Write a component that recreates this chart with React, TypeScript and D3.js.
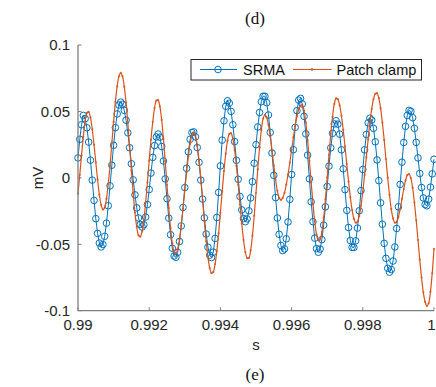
import * as d3 from "d3";

// sampling of both traces (s)
const tStart = 0.99;
const tStep = 0.00005;

// SRMA estimate (mV)
const srma = [
  0.015, 0.029, 0.04, 0.047, 0.0446, 0.0377, 0.0269, 0.0133, -0.0017, -0.017,
  -0.0307, -0.0418, -0.0491, -0.052, -0.0502, -0.044, -0.0341, -0.021, -0.006, 0.0095,
  0.0245, 0.0378, 0.0481, 0.0548, 0.057, 0.0554, 0.0508, 0.0434, 0.0339, 0.0227,
  0.0106, -0.0015, -0.0128, -0.0226, -0.0302, -0.0351, -0.037, -0.0353, -0.0295, -0.0201,
  -0.0088, 0.0036, 0.0154, 0.0243, 0.0308, 0.033, 0.0306, 0.0236, 0.0127, -0.0008,
  -0.0157, -0.0303, -0.0428, -0.053, -0.0588, -0.0598, -0.0561, -0.0479, -0.0362, -0.0223,
  -0.0073, 0.0072, 0.0196, 0.029, 0.0341, 0.0346, 0.0308, 0.0228, 0.0117, -0.0017,
  -0.016, -0.0301, -0.0423, -0.0522, -0.0582, -0.06, -0.0559, -0.0456, -0.0298, -0.011,
  0.009, 0.0284, 0.0429, 0.0539, 0.058, 0.0562, 0.05, 0.04, 0.0273, 0.0132,
  -0.0011, -0.014, -0.0241, -0.0307, -0.033, -0.0309, -0.0248, -0.0151, -0.0029, 0.011,
  0.025, 0.0383, 0.0492, 0.0573, 0.0614, 0.0614, 0.0566, 0.0473, 0.0342, 0.0187,
  0.0019, -0.0149, -0.0302, -0.0425, -0.0509, -0.0548, -0.0535, -0.0459, -0.0332, -0.0162,
  0.0025, 0.0212, 0.038, 0.0506, 0.0585, 0.0598, 0.0556, 0.0463, 0.0331, 0.0171,
  -0.0008, -0.018, -0.033, -0.0454, -0.0533, -0.056, -0.0536, -0.0465, -0.0356, -0.0218,
  -0.0065, 0.0088, 0.0226, 0.0335, 0.0406, 0.043, 0.0404, 0.0329, 0.0211, 0.0068,
  -0.0089, -0.0245, -0.0374, -0.0472, -0.0523, -0.0524, -0.0474, -0.0378, -0.0248, -0.0096,
  0.0063, 0.0211, 0.0327, 0.0414, 0.0449, 0.0435, 0.0373, 0.0271, 0.0135, -0.0021,
  -0.0188, -0.0349, -0.0493, -0.0606, -0.0681, -0.071, -0.069, -0.0626, -0.052, -0.0381,
  -0.0218, -0.0049, 0.0118, 0.0266, 0.0388, 0.047, 0.0508, 0.05, 0.0453, 0.0373,
  0.0267, 0.015, 0.0033, -0.0073, -0.0151, -0.0201, -0.021, -0.016, -0.007, 0.003,
  0.014,
];

// patch clamp recording (mV)
const patchClamp = [
  -0.012, 0.0023, 0.017, 0.031, 0.0424, 0.0489, 0.0496, 0.0453, 0.0366, 0.025,
  0.0117, -0.0014, -0.0127, -0.0204, -0.0239, -0.0224, -0.0157, -0.0046, 0.0092, 0.0259,
  0.0421, 0.0572, 0.0688, 0.0764, 0.079, 0.0764, 0.0686, 0.0568, 0.0411, 0.0237,
  0.0055, -0.0115, -0.0261, -0.037, -0.0433, -0.0443, -0.0403, -0.0314, -0.0186, -0.0034,
  0.0129, 0.0287, 0.0422, 0.0525, 0.0581, 0.0585, 0.0537, 0.0436, 0.0293, 0.0126,
  -0.0054, -0.0227, -0.0377, -0.0492, -0.0556, -0.0568, -0.0535, -0.0463, -0.0359, -0.0233,
  -0.0093, 0.0042, 0.016, 0.0257, 0.0319, 0.034, 0.0316, 0.0245, 0.0132, -0.0001,
  -0.0165, -0.0327, -0.0476, -0.0595, -0.0679, -0.0718, -0.0708, -0.065, -0.055, -0.0418,
  -0.0263, -0.0102, 0.0051, 0.0182, 0.028, 0.0331, 0.0336, 0.0294, 0.0209, 0.009,
  -0.0052, -0.0202, -0.0344, -0.0468, -0.0558, -0.0604, -0.0603, -0.0545, -0.0435, -0.0286,
  -0.0112, 0.0065, 0.0229, 0.0361, 0.0446, 0.0475, 0.0455, 0.0399, 0.0311, 0.0206,
  0.0092, -0.0013, -0.0097, -0.015, -0.0166, -0.0151, -0.0112, -0.0051, 0.0026, 0.0115,
  0.0211, 0.0304, 0.039, 0.0462, 0.0515, 0.0544, 0.0548, 0.0506, 0.0415, 0.0283,
  0.0129, -0.0036, -0.0194, -0.0327, -0.0425, -0.0471, -0.0465, -0.0407, -0.0302, -0.0162,
  0.0003, 0.0174, 0.0331, 0.0459, 0.0556, 0.0598, 0.0591, 0.0546, 0.0467, 0.0361,
  0.0237, 0.0104, -0.0028, -0.0146, -0.0242, -0.0308, -0.0338, -0.0331, -0.0287, -0.0209,
  -0.0103, 0.0022, 0.0156, 0.029, 0.0416, 0.0518, 0.0592, 0.0633, 0.0637, 0.06,
  0.0523, 0.0416, 0.0286, 0.0142, 0.0001, -0.0128, -0.0236, -0.0306, -0.0338, -0.0332,
  -0.0295, -0.0234, -0.0159, -0.0084, -0.002, 0.002, 0.0029, -0.0002, -0.0075, -0.0186,
  -0.0319, -0.0468, -0.0616, -0.075, -0.0861, -0.0933, -0.0964, -0.0944, -0.0858, -0.0718,
  -0.0534,
];

const xTicks = [0.99, 0.992, 0.994, 0.996, 0.998, 1];
const yTicks = [-0.1, -0.05, 0, 0.05, 0.1];

const BLUE = "#0072BD";
const ORANGE = "#D95319";
const SANS = "'Liberation Sans', Arial, Helvetica, sans-serif";
const SERIF = "'Liberation Serif', 'Times New Roman', serif";

const W = 436;
const H = 387;
const left = 78;
const right = 434;
const top = 45;
const bottom = 310.7;

export default function App() {
  const x = d3.scaleLinear().domain([0.99, 1]).range([left, right]);
  const y = d3.scaleLinear().domain([-0.1, 0.1]).range([bottom, top]);

  const srmaPts = srma.map((v, i) => [tStart + i * tStep, v] as [number, number]);
  const pcPts = patchClamp.map((v, i) => [tStart + i * tStep, v] as [number, number]);

  const line = d3
    .line<[number, number]>()
    .x((d) => x(d[0]))
    .y((d) => y(d[1]));

  const fmtY = (v: number) => (v === 0 ? "0" : String(v));
  const fmtX = (v: number) => (v === 1 ? "1" : String(v));

  return (
    <svg
      width={W}
      height={H}
      style={{ position: "absolute", left: 0, top: 0, background: "#fff" }}
      fontFamily={SANS}
    >
      <text x={255} y={24} textAnchor="middle" fontFamily={SERIF} fontSize={17} fill="#111">
        (d)
      </text>

      {/* SRMA */}
      <path d={line(srmaPts) || ""} fill="none" stroke={BLUE} strokeWidth={1} />
      {srmaPts.map((d, i) => (
        <circle key={"s" + i} cx={x(d[0])} cy={y(d[1])} r={3.3} fill="none" stroke={BLUE} strokeWidth={1} />
      ))}

      {/* patch clamp */}
      <path d={line.curve(d3.curveCatmullRom)(pcPts) || ""} fill="none" stroke={ORANGE} strokeWidth={1.2} />
      {pcPts.map((d, i) => (
        <circle key={"p" + i} cx={x(d[0])} cy={y(d[1])} r={1.1} fill={ORANGE} opacity={0.8} />
      ))}

      {/* axes */}
      <line x1={left} x2={left} y1={top} y2={bottom} stroke="#808080" strokeWidth={1.3} />
      <line x1={left} x2={right} y1={bottom} y2={bottom} stroke="#808080" strokeWidth={1.3} />
      {yTicks.map((t) => (
        <g key={"y" + t}>
          <line x1={left} x2={left + 3.5} y1={y(t)} y2={y(t)} stroke="#808080" strokeWidth={1} />
          <text x={70} y={y(t)} dy="0.35em" textAnchor="end" fontSize={15} fill="#262626">
            {fmtY(t)}
          </text>
        </g>
      ))}
      {xTicks.map((t) => (
        <g key={"x" + t}>
          <line x1={x(t)} x2={x(t)} y1={bottom} y2={bottom - 3.5} stroke="#808080" strokeWidth={1} />
          <text
            x={t === 1 ? W - 0.5 : x(t)}
            y={330}
            textAnchor={t === 1 ? "end" : "middle"}
            fontSize={15}
            fill="#262626"
          >
            {fmtX(t)}
          </text>
        </g>
      ))}
      <text x={256} y={350} textAnchor="middle" fontSize={15} fill="#262626">
        s
      </text>
      <text
        transform={`translate(43,178) rotate(-90)`}
        textAnchor="middle"
        fontSize={15}
        fill="#262626"
      >
        mV
      </text>

      {/* legend */}
      <rect x={191} y={59.5} width={230.5} height={20.5} fill="#fff" stroke="#262626" strokeWidth={1} />
      <line x1={200} x2={237} y1={69.5} y2={69.5} stroke={BLUE} strokeWidth={1} />
      <circle cx={218} cy={69.5} r={3.3} fill="none" stroke={BLUE} strokeWidth={1} />
      <text x={243} y={74.8} fontSize={14.5} fill="#111">
        SRMA
      </text>
      <line x1={293} x2={331.5} y1={69.5} y2={69.5} stroke={ORANGE} strokeWidth={1.2} />
      <circle cx={312} cy={69.5} r={1.3} fill={ORANGE} />
      <text x={336.5} y={74.8} fontSize={14.5} fill="#111">
        Patch clamp
      </text>

      <text x={255} y={380} textAnchor="middle" fontFamily={SERIF} fontSize={17} fill="#111">
        (e)
      </text>
    </svg>
  );
}
